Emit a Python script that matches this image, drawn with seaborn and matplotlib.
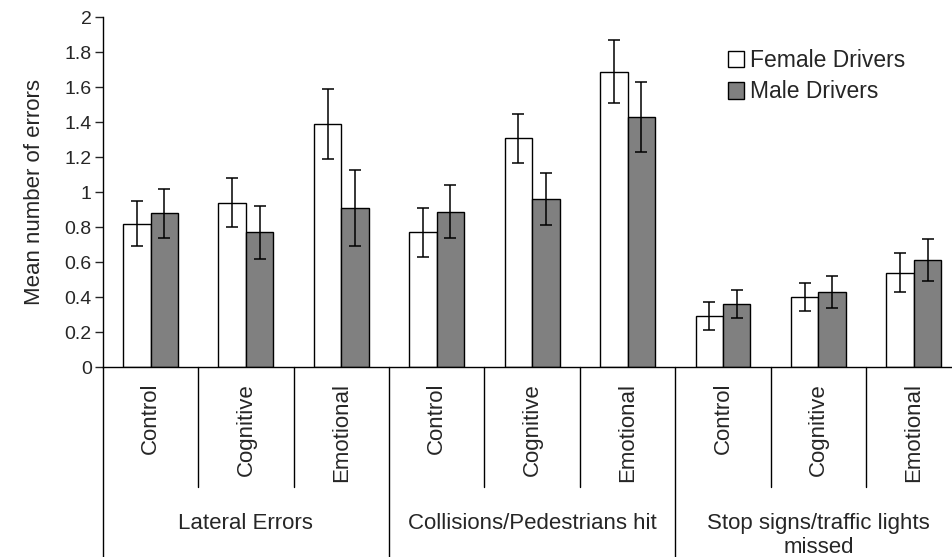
import numpy as np
import pandas as pd
import seaborn as sns
import matplotlib.pyplot as plt
import matplotlib.transforms as mtransforms

# data
measures = ["Lateral Errors", "Collisions/Pedestrians hit", "Stop signs/traffic lights\nmissed"]
conditions = ["Control", "Cognitive", "Emotional"]
drivers = ["Female Drivers", "Male Drivers"]

female_means = [0.82, 0.94, 1.39, 0.77, 1.31, 1.69, 0.29, 0.40, 0.54]
female_err = [0.13, 0.14, 0.20, 0.14, 0.14, 0.18, 0.08, 0.08, 0.11]
male_means = [0.88, 0.77, 0.91, 0.89, 0.96, 1.43, 0.36, 0.43, 0.61]
male_err = [0.14, 0.15, 0.22, 0.15, 0.15, 0.20, 0.08, 0.09, 0.12]

y_ticks = [0, 0.2, 0.4, 0.6, 0.8, 1, 1.2, 1.4, 1.6, 1.8, 2]
y_tick_labels = ["0", "0.2", "0.4", "0.6", "0.8", "1", "1.2", "1.4", "1.6", "1.8", "2"]

# build long table
cells = [m + "|" + c for m in measures for c in conditions]
df = pd.DataFrame({
    "cell": cells * 2,
    "driver": [drivers[0]] * 9 + [drivers[1]] * 9,
    "mean": female_means + male_means,
})

sns.set_style("white")
plt.rcParams["font.family"] = ["Liberation Sans", "DejaVu Sans"]

fig = plt.figure(figsize=(9.52, 5.57), dpi=100)
ax = fig.add_axes([0.108, 0.341, 0.902, 0.6276])

sns.barplot(data=df, x="cell", y="mean", hue="driver", order=cells,
            hue_order=drivers, palette=["white", "#808080"], width=0.576,
            edgecolor="black", linewidth=1.0, errorbar=None, ax=ax)

# error bars at the bar centres
for cont, errs in zip(ax.containers, [female_err, male_err]):
    xs = [p.get_x() + p.get_width() / 2 for p in cont.patches]
    hs = [p.get_height() for p in cont.patches]
    ax.errorbar(xs, hs, yerr=errs, fmt="none", ecolor="black",
                elinewidth=1.1, capsize=4, capthick=1.1)

ax.set_xlim(-0.5, 8.5)
ax.set_ylim(0, 2)
ax.set_yticks(y_ticks)
ax.set_yticklabels(y_tick_labels, fontsize=14)
ax.set_xticks([])
ax.set_xlabel("")
ax.set_ylabel("Mean number of errors", fontsize=16, labelpad=14)
ax.tick_params(axis="y", direction="out", length=6, width=1, left=True, pad=2)

for s in ["top", "right"]:
    ax.spines[s].set_visible(False)
for s in ["left", "bottom"]:
    ax.spines[s].set_color("black")
    ax.spines[s].set_linewidth(1)

# category table under the axis
trans = mtransforms.blended_transform_factory(ax.transData, ax.transAxes)
short_y = -0.343
long_y = -0.56
for i in range(10):
    x = i - 0.5
    y_end = long_y if i % 3 == 0 else short_y
    ax.plot([x, x], [0, y_end], color="black", lw=1, transform=trans, clip_on=False)

for i, cell in enumerate(cells):
    ax.text(i, -0.045, cell.split("|")[1], rotation=90, ha="center", va="top",
            fontsize=16, transform=trans)

for j, m in enumerate(measures):
    ax.text(3 * j + 1, -0.418, m, ha="center", va="top", fontsize=16,
            linespacing=1.2, transform=trans)

ax.legend(loc="upper left", bbox_to_anchor=(0.7525, 0.932), bbox_transform=fig.transFigure,
          frameon=False, fontsize=16.5, handlelength=0.72, handleheight=0.72,
          handletextpad=0.25, labelspacing=0.35, borderpad=0)

fig.savefig("out.png", dpi=100)
